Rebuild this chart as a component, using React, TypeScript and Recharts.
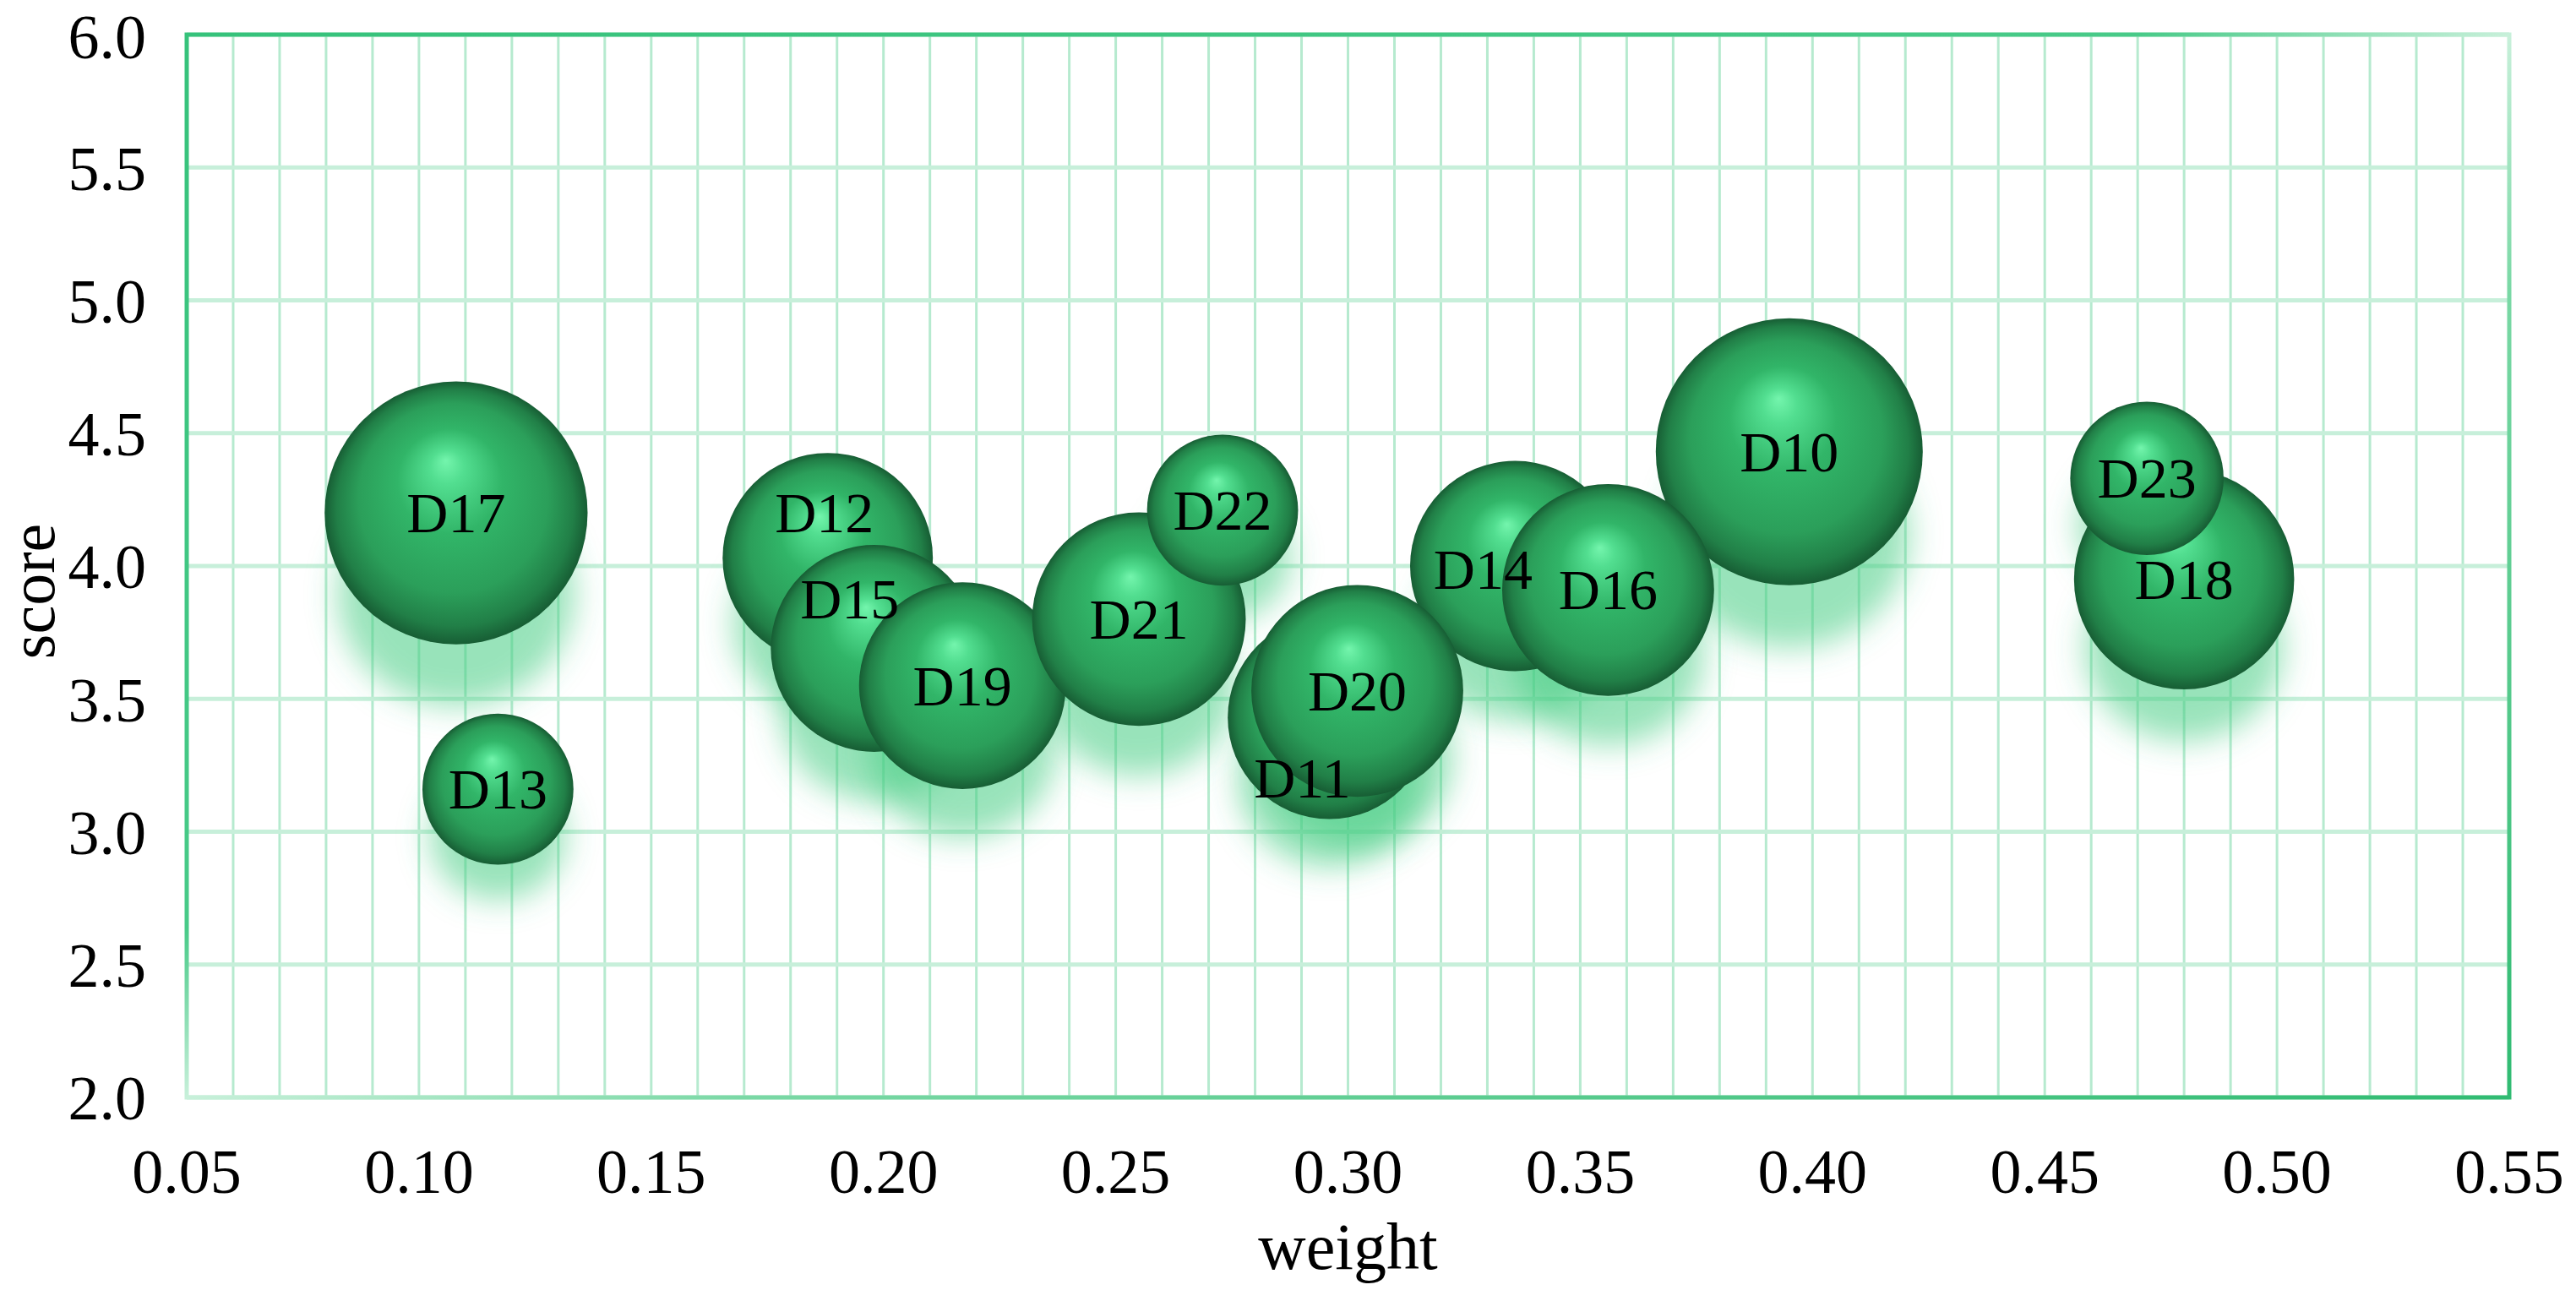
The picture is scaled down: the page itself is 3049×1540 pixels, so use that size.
import React from "react";
import {
  ScatterChart,
  Scatter,
  XAxis,
  YAxis,
  ZAxis,
  CartesianGrid,
  ReferenceArea,
} from "recharts";

// indicators, in drawing order (later ones sit on top)
const names = ["D10", "D11", "D12", "D13", "D14", "D15", "D16", "D17", "D18", "D19", "D20", "D21", "D22", "D23"];
const weights = [0.395, 0.296, 0.188, 0.117, 0.336, 0.198, 0.356, 0.108, 0.48, 0.217, 0.302, 0.255, 0.273, 0.472];
const scores = [4.43, 3.43, 4.03, 3.16, 4.0, 3.69, 3.91, 4.2, 3.95, 3.55, 3.53, 3.8, 4.21, 4.33];
const sizes = [1.0, 0.58, 0.62, 0.32, 0.62, 0.6, 0.63, 0.97, 0.68, 0.6, 0.63, 0.64, 0.32, 0.33];

const xTicks = [0.05, 0.1, 0.15, 0.2, 0.25, 0.3, 0.35, 0.4, 0.45, 0.5, 0.55];
const yTicks = [2, 2.5, 3, 3.5, 4, 4.5, 5, 5.5, 6];

const data = names.map((name, i) => ({
  name,
  weight: weights[i],
  score: scores[i],
  size: sizes[i],
}));

// minor vertical grid every 0.01
const minorX: number[] = [];
for (let i = 5; i <= 55; i++) minorX.push(i / 100);

// a few labels were dragged off-centre in the original
const labelShift: Record<string, [number, number]> = {
  D11: [-32, 72],
  D12: [-4, -54],
  D14: [-38, 4],
  D15: [-29, -58],
};

const serif = '"Liberation Serif", "Times New Roman", serif';
const MAX_R = 158;

const Shadow = (props: any) => {
  const { cx, cy, width } = props;
  const r = width / 2;
  return (
    <ellipse
      cx={cx}
      cy={cy + r * 0.62}
      rx={r * 0.9}
      ry={r * 0.85}
      fill="#45cc82"
      fillOpacity={0.55}
      filter="url(#bubbleBlur)"
    />
  );
};

const Ball = (props: any) => {
  const { cx, cy, width } = props;
  return <circle cx={cx} cy={cy} r={width / 2} fill="url(#ballFill)" />;
};

const Tag = (props: any) => {
  const { cx, cy, payload } = props;
  const [dx, dy] = labelShift[payload.name] || [0, 0];
  return (
    <text
      x={cx + dx}
      y={cy + dy}
      textAnchor="middle"
      dominantBaseline="central"
      fontFamily={serif}
      fontSize={68}
      fill="#000"
    >
      {payload.name}
    </text>
  );
};

const App = () => {
  return (
    <div style={{ position: "absolute", left: 0, top: 0, width: 3049, height: 1540, background: "#fff" }}>
      <svg width={0} height={0} style={{ position: "absolute" }}>
        <defs>
          <radialGradient id="ballFill" cx="0.5" cy="0.5" r="0.5" fx="0.46" fy="0.3">
            <stop offset="0%" stopColor="#74f5ad" />
            <stop offset="13%" stopColor="#52de90" />
            <stop offset="40%" stopColor="#31b568" />
            <stop offset="72%" stopColor="#2b9f5a" />
            <stop offset="90%" stopColor="#217f47" />
            <stop offset="100%" stopColor="#175d34" />
          </radialGradient>
          <linearGradient id="frameGrad" x1="0" y1="0" x2="1" y2="1">
            <stop offset="0%" stopColor="#36c27b" />
            <stop offset="42%" stopColor="#48ca88" />
            <stop offset="50%" stopColor="#c8f0da" />
            <stop offset="62%" stopColor="#7ad8a5" />
            <stop offset="100%" stopColor="#30bb72" />
          </linearGradient>
          <filter id="bubbleBlur" x="-50%" y="-50%" width="200%" height="200%">
            <feGaussianBlur stdDeviation="18" />
          </filter>
        </defs>
      </svg>
      <ScatterChart
        width={3049}
        height={1540}
        margin={{ top: 41, right: 79, bottom: 81, left: 0 }}
      >
        <CartesianGrid
          horizontal={false}
          verticalValues={minorX}
          stroke="#b6eacf"
          strokeWidth={3}
        />
        <CartesianGrid
          vertical={false}
          horizontalValues={yTicks}
          stroke="#c7efda"
          strokeWidth={5}
        />
        <XAxis
          type="number"
          dataKey="weight"
          domain={[0.05, 0.55]}
          ticks={xTicks}
          tickFormatter={(v: number) => v.toFixed(2)}
          axisLine={false}
          tickLine={false}
          tickSize={0}
          tickMargin={60}
          height={160}
          tick={{ fill: "#000", fontSize: 74, fontFamily: serif }}
          label={{
            content: (p: any) => (
              <text
                x={p.viewBox.x + p.viewBox.width / 2}
                y={p.viewBox.y + 203}
                textAnchor="middle"
                fontFamily={serif}
                fontSize={78}
                fill="#000"
              >
                weight
              </text>
            ),
          }}
        />
        <YAxis
          type="number"
          dataKey="score"
          domain={[2, 6]}
          ticks={yTicks}
          tickFormatter={(v: number) => v.toFixed(1)}
          axisLine={false}
          tickLine={false}
          tickSize={0}
          tickMargin={48}
          width={221}
          tick={{ fill: "#000", fontSize: 74, fontFamily: serif }}
          label={{
            content: () => (
              <text
                x={64}
                y={700}
                transform="rotate(-90, 64, 700)"
                textAnchor="middle"
                fontFamily={serif}
                fontSize={76}
                fill="#000"
              >
                score
              </text>
            ),
          }}
        />
        <ZAxis type="number" dataKey="size" domain={[0, 1]} range={[0, Math.PI * MAX_R * MAX_R]} />
        <ReferenceArea
          x1={0.05}
          x2={0.55}
          y1={2}
          y2={6}
          fill="none"
          stroke="url(#frameGrad)"
          strokeWidth={5}
          ifOverflow="visible"
        />
        <Scatter data={data} shape={Shadow} isAnimationActive={false} />
        <Scatter data={data} shape={Ball} isAnimationActive={false} />
        <Scatter data={data} shape={Tag} isAnimationActive={false} />
      </ScatterChart>
    </div>
  );
};

export default App;
